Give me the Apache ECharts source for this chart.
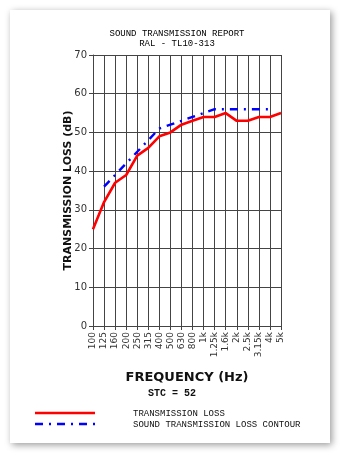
<!DOCTYPE html>
<html>
<head>
<meta charset="utf-8">
<style>
  html, body { margin: 0; padding: 0; background: #ffffff; }
  #chart { width: 341px; height: 457px; }
</style>
<script src="https://cdn.jsdelivr.net/npm/echarts@6/dist/echarts.min.js"></script>
</head>
<body>
<div id="chart"></div>
<script>
// One-third-octave band centre frequencies (Hz)
const frequencies = ['100', '125', '160', '200', '250', '315', '400', '500', '630',
  '800', '1k', '1.25k', '1.6k', '2k', '2.5k', '3.15k', '4k', '5k'];

// Measured transmission loss (dB)
const transmissionLoss = [25, 32, 37, 39, 44, 46, 49, 50, 52, 53, 54, 54, 55, 53, 53, 54, 54, 55];

// STC reference contour fitted at STC 52 (125 Hz - 4 kHz)
const stcContour = [null, 36, 39, 42, 45, 48, 51, 52, 53, 54, 55, 56, 56, 56, 56, 56, 56, null];

const yTicks = { min: 0, max: 70, interval: 10 };
const stcRating = 52;

const seriesNames = ['TRANSMISSION LOSS', 'SOUND TRANSMISSION LOSS CONTOUR'];

const mono = '"Liberation Mono", "Courier New", monospace';
const sans = '"DejaVu Sans", Verdana, sans-serif';
const gridColor = '#444444';
const red = '#ff0000';
const blue = '#0000ff';
const dashDot = [8, 6, 2, 6];

const chart = echarts.init(document.getElementById('chart'), null, { renderer: 'canvas' });

chart.setOption({
  animation: false,
  backgroundColor: '#ffffff',
  title: {
    text: 'SOUND TRANSMISSION REPORT\nRAL - TL10-313',
    left: 172, textAlign: 'center', top: 23,
    textStyle: { fontFamily: mono, fontSize: 9, fontWeight: 'normal', color: '#000', lineHeight: 10.5 }
  },
  graphic: [
    // page card with drop shadow
    {
      type: 'rect', z: -10, silent: true,
      shape: { x: 10, y: 10, width: 320, height: 433 },
      style: { fill: '#ffffff', shadowBlur: 7, shadowOffsetX: 2, shadowOffsetY: 2, shadowColor: 'rgba(0,0,0,0.4)' }
    },
    {
      type: 'text', silent: true, x: 172, y: 393,
      style: { text: 'STC = ' + stcRating, font: 'bold 10px ' + mono, fill: '#111', align: 'center', verticalAlign: 'middle' }
    },
    // key
    {
      type: 'line', silent: true,
      shape: { x1: 35, y1: 413, x2: 95, y2: 413 },
      style: { stroke: red, lineWidth: 2.6 }
    },
    {
      type: 'line', silent: true,
      shape: { x1: 35, y1: 424, x2: 95, y2: 424 },
      style: { stroke: blue, lineWidth: 2.4, lineDash: dashDot }
    },
    {
      type: 'text', silent: true, x: 133, y: 414,
      style: { text: seriesNames[0], font: '9px ' + mono, fill: '#111', verticalAlign: 'middle' }
    },
    {
      type: 'text', silent: true, x: 133, y: 425,
      style: { text: seriesNames[1], font: '9px ' + mono, fill: '#111', verticalAlign: 'middle' }
    }
  ],
  grid: { left: 93, right: 60, top: 55, bottom: 131, containLabel: false },
  xAxis: {
    type: 'category', data: frequencies, boundaryGap: false,
    name: 'FREQUENCY (Hz)', nameLocation: 'middle', nameGap: 45, nameMoveOverlap: false,
    nameTextStyle: { fontFamily: sans, fontSize: 13, fontWeight: 'bold', color: '#111' },
    axisLine: { show: true, lineStyle: { color: gridColor, width: 1 } },
    axisTick: { show: true, alignWithLabel: true, length: 4, lineStyle: { color: gridColor } },
    axisLabel: { rotate: 90, interval: 0, fontFamily: sans, fontSize: 9, color: '#333', margin: 6 },
    splitLine: { show: true, interval: 0, lineStyle: { color: gridColor, width: 1 } }
  },
  yAxis: {
    type: 'value', min: yTicks.min, max: yTicks.max, interval: yTicks.interval,
    name: 'TRANSMISSION LOSS (dB)', nameLocation: 'middle', nameGap: 19, nameMoveOverlap: false,
    nameTextStyle: { fontFamily: sans, fontSize: 11, fontWeight: 'bold', color: '#111' },
    axisLine: { show: true, lineStyle: { color: gridColor, width: 1 } },
    axisTick: { show: true, length: 4, lineStyle: { color: gridColor } },
    axisLabel: { fontFamily: sans, fontSize: 10, color: '#333', margin: 6 },
    splitLine: { show: true, lineStyle: { color: gridColor, width: 1 } }
  },
  series: [
    {
      name: seriesNames[0], type: 'line', data: transmissionLoss,
      symbol: 'none', z: 3,
      lineStyle: { color: red, width: 2.6 },
      itemStyle: { color: red }
    },
    {
      name: seriesNames[1], type: 'line', data: stcContour,
      symbol: 'none', z: 4,
      lineStyle: { color: blue, width: 2.4, type: dashDot },
      itemStyle: { color: blue }
    }
  ]
});
</script>
</body>
</html>
